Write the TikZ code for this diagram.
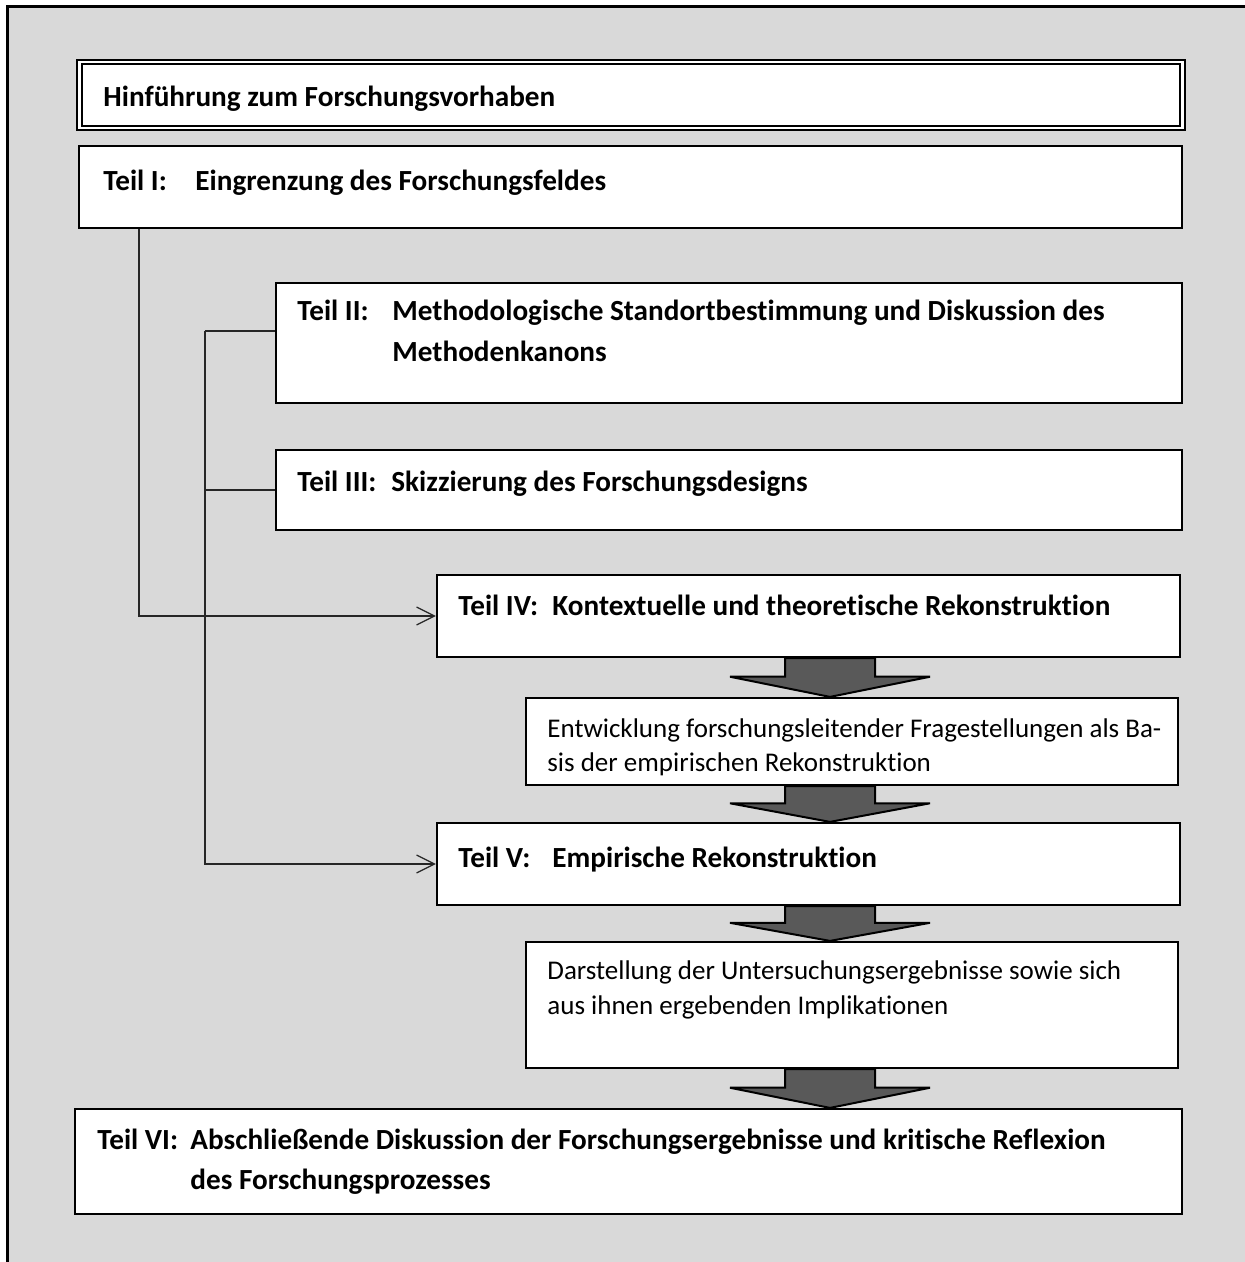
\documentclass[tikz,border=0pt]{standalone}
\usepackage{fontspec}
\setmainfont{Carlito}[Ligatures=NoCommon]
\usetikzlibrary{calc,arrows.meta,fit}
\definecolor{bggray}{HTML}{D9D9D9}
\definecolor{arrgray}{HTML}{595959}
\newcommand\myblockarrow[2]{%
  \coordinate (#1-t) at (#1.south -| ax);
  \coordinate (#1-b) at (#2.north -| ax);
  \coordinate (#1-m) at ($(#1-t)!0.48!(#1-b)$);
  \draw[blockarrow] ($(#1-t)+(-45,0)$) -- ($(#1-m)+(-45,0)$) -- ($(#1-m)+(-100,0)$) -- (#1-b)
    -- ($(#1-m)+(100,0)$) -- ($(#1-m)+(45,0)$) -- ($(#1-t)+(45,0)$) -- cycle;
}
\begin{document}
\begin{tikzpicture}[x=0.5pt,y=-0.5pt,
  box/.style={draw=black,line width=1.1pt,fill=white,inner sep=0pt},
  lbl/.style={anchor=base west,inner sep=0pt,font=\fontsize{14.6}{17}\selectfont\bfseries},
  txt/.style={anchor=base west,inner sep=0pt,font=\fontsize{13.5}{16}\selectfont},
  conn/.style={line width=0.6pt,draw=black!85},
  arr/.style={conn,-{Straight Barb[length=9pt,width=9pt,line width=0.6pt]}},
  blockarrow/.style={fill=arrgray,draw=black,line width=1pt,line join=miter}
]
\useasboundingbox (0,0) rectangle (1245,1262);
\fill[white] (0,0) rectangle (1245,1262);
\fill[bggray] (7,7) rectangle (1245,1262);
\draw[line width=1.5pt] (1245,7) -- (7,7) -- (7,1262);
\coordinate (ax) at (830,0);

% boxes
\node[box,line width=0.8pt,fit={(77,60) (1185,130)}] (H) {};
\node[box,line width=1.3pt,fit={(82,64) (1180,126)}] (Hi) {};
\node[box,fit={(79,146) (1182,228)}] (T1) {};
\node[box,fit={(276,283) (1182,403)}] (T2) {};
\node[box,fit={(276,450) (1182,530)}] (T3) {};
\node[box,fit={(437,575) (1180,657)}] (T4) {};
\node[box,fit={(526,698) (1178,785)}] (E) {};
\node[box,fit={(437,823) (1180,905)}] (T5) {};
\node[box,fit={(526,942) (1178,1068)}] (D) {};
\node[box,fit={(75,1109) (1182,1214)}] (T6) {};

% texts
\node[lbl] (hT) at (103,107) {Hinführung zum Forschungsvorhaben};
\node[lbl] (t1L) at (103,191) {Teil I:};
\node[lbl] (t1T) at (195,191) {Eingrenzung des Forschungsfeldes};
\node[lbl] (t2L) at (297,321) {Teil II:};
\node[lbl] (t2T) at (392,321) {Methodologische Standortbestimmung und Diskussion des};
\node[lbl] (t2U) at (392,362) {Methodenkanons};
\node[lbl] (t3L) at (297,491) {Teil III:};
\node[lbl] (t3T) at (391,491) {Skizzierung des Forschungsdesigns};
\node[lbl] (t4L) at (458,615) {Teil IV:};
\node[lbl] (t4T) at (552,615) {Kontextuelle und theoretische Rekonstruktion};
\node[txt] (eT) at (547,737) {Entwicklung forschungsleitender Fragestellungen als Ba-};
\node[txt] (eU) at (547,771) {sis der empirischen Rekonstruktion};
\node[lbl] (t5L) at (458,867) {Teil V:};
\node[lbl] (t5T) at (552,867) {Empirische Rekonstruktion};
\node[txt] (dT) at (547,979) {Darstellung der Untersuchungsergebnisse sowie sich};
\node[txt] (dU) at (547,1014) {aus ihnen ergebenden Implikationen};
\node[lbl] (t6L) at (97,1149) {Teil VI:};
\node[lbl] (t6T) at (190,1149) {Abschließende Diskussion der Forschungsergebnisse und kritische Reflexion};
\node[lbl] (t6U) at (190,1189) {des Forschungsprozesses};

% connectors
\coordinate (c1) at ($(T1.south west)+(61,0)$);
\draw[arr] (c1) |- (T4.west);
\coordinate (b1) at ($(T2.west)+(-70,-12)$);
\draw[conn] (b1) -- (b1 -| T2.west);
\draw[conn] (T3.west) -- (T3.west -| b1);
\draw[arr] (b1) |- (T5.west);

% block arrows
\myblockarrow{T4}{E}
\myblockarrow{E}{T5}
\myblockarrow{T5}{D}
\myblockarrow{D}{T6}
\end{tikzpicture}
\end{document}
